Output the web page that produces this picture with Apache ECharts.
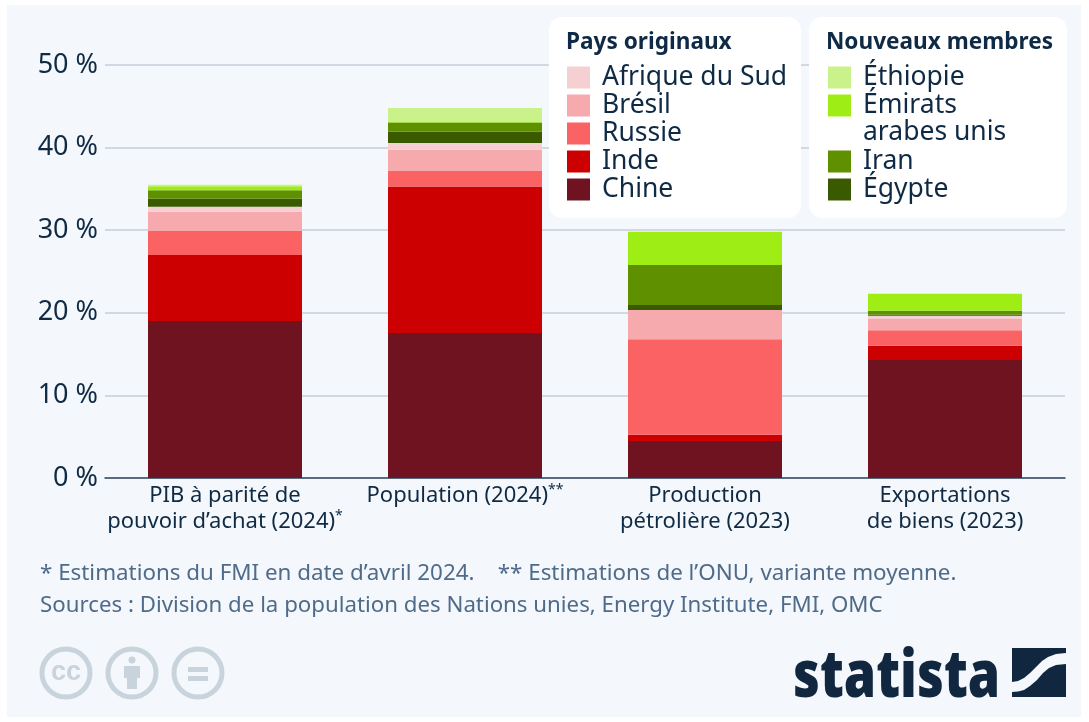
<!DOCTYPE html>
<html><head><meta charset="utf-8">
<style>html,body{margin:0;padding:0;background:#fff}#c{width:1089px;height:722px}</style>
<script src="https://cdn.jsdelivr.net/npm/echarts@6/dist/echarts.min.js"></script></head>
<body><div id="c"></div>
<script>
const categories = ['PIB à parité de\npouvoir d’achat (2024)*','Population (2024)**','Production\npétrolière (2023)','Exportations\nde biens (2023)'];
const yTicks = [0,10,20,30,40,50];
const chine = [19.0,17.55,4.48,14.28];
const inde = [8.0,17.75,0.76,1.72];
const russie = [2.9,1.87,11.56,1.88];
const bresil = [2.34,2.58,3.54,1.42];
const afrique = [0.61,0.8,0,0.35];
const egypte = [0.95,1.38,0.61,0.1];
const iran = [1.03,1.12,4.85,0.49];
const emirats = [0.5,0.1,4.0,2.06];
const ethiopie = [0.17,1.65,0,0];
const original = ['Afrique du Sud','Brésil','Russie','Inde','Chine'];
const newA = ['Éthiopie','Émirats arabes unis'];
const newB = ['Iran','Égypte'];
const stack = [['Chine',chine,'#701321'],['Inde',inde,'#cc0000'],['Russie',russie,'#fb6264'],['Brésil',bresil,'#f7aaae'],['Afrique du Sud',afrique,'#f5d0d3'],['Égypte',egypte,'#3a5a00'],['Iran',iran,'#5e9000'],['Émirats arabes unis',emirats,'#9eee15'],['Éthiopie',ethiopie,'#c9f28b']];
const F = '"Noto Sans","Open Sans",sans-serif';
const INK = '#0f2a44', SUB = '#4f6b8a', ICON = '#c8d3dc', BG = '#f4f7fb', LOGO = '#10273f';
const legendBase = {orient:'vertical',itemWidth:23,itemHeight:22,itemGap:1,padding:0,selectedMode:false,z:20,icon:'rect',
  textStyle:{fontFamily:F,fontSize:26.5,lineHeight:22,color:INK,padding:[0,0,0,7]},itemStyle:{borderWidth:0}};
const chart = echarts.init(document.getElementById('c'),null,{renderer:'canvas'});
chart.setOption({
  animation:false,
  backgroundColor:'#fff',
  textStyle:{fontFamily:F},
  grid:{left:105,right:24,top:65,bottom:244,containLabel:false},
  xAxis:{type:'category',data:categories,axisTick:{show:false},
    axisLine:{lineStyle:{color:'#33475f',width:1.5}},
    axisLabel:{interval:0,margin:5,fontFamily:F,fontSize:22,lineHeight:26,color:INK,
      formatter:v=>v.replace(/(\*+)$/,'{s|$1}'),
      rich:{s:{fontSize:14,fontFamily:F,color:INK,verticalAlign:'top',padding:[0,0,6,0]}}}},
  yAxis:{type:'value',min:0,max:50,interval:10,
    axisLine:{show:false},axisTick:{show:false},
    splitLine:{lineStyle:{color:'#c6ced9',width:1.5}},
    axisLabel:{margin:7,fontFamily:F,fontSize:27,color:INK,padding:[6,0,0,0],formatter:v=>yTicks.includes(v)?v+' %':''}},
  legend:[
    Object.assign({},legendBase,{left:567,top:64,data:original}),
    Object.assign({},legendBase,{left:828,top:64,data:newA,formatter:n=>n.split(' ')[0]}),
    Object.assign({},legendBase,{left:828,top:148,data:newB})
  ],
  series:stack.map(([name,data,color])=>({name,type:'bar',stack:'t',data,barWidth:154,itemStyle:{color},emphasis:{disabled:true}})),
  graphic:[
    {type:'rect',z:-10,silent:true,shape:{x:7,y:5,width:1074,height:712},style:{fill:BG}},
    {type:'rect',z:10,shape:{x:549,y:17,width:252,height:201,r:13},style:{fill:'#fff'}},
    {type:'rect',z:10,shape:{x:809,y:17,width:258,height:201,r:13},style:{fill:'#fff'}},
    {type:'text',z:21,x:566,y:31,style:{text:'Pays originaux',fontFamily:F,fontWeight:700,fontSize:22.6,fill:INK}},
    {type:'text',z:21,x:826,y:31,style:{text:'Nouveaux membres',fontFamily:F,fontWeight:700,fontSize:22.6,fill:INK}},
    {type:'text',z:21,x:863,y:119,style:{text:'arabes unis',fontFamily:F,fontSize:26.5,fill:INK}},
    {type:'text',x:40,y:564,scaleX:1.065,style:{text:'* Estimations du FMI en date d’avril 2024.    ** Estimations de l’ONU, variante moyenne.',fontFamily:F,fontSize:21,fill:SUB}},
    {type:'text',x:40,y:596,scaleX:1.06,style:{text:'Sources : Division de la population des Nations unies, Energy Institute, FMI, OMC',fontFamily:F,fontSize:21,fill:SUB}},
    {type:'circle',shape:{cx:66,cy:673,r:24},style:{fill:'none',stroke:ICON,lineWidth:5}},
    {type:'text',x:66,y:673,style:{text:'cc',fontFamily:'"Liberation Sans",sans-serif',fontWeight:700,fontSize:27,fill:ICON,align:'center',verticalAlign:'middle'}},
    {type:'circle',shape:{cx:132,cy:673,r:24},style:{fill:'none',stroke:ICON,lineWidth:5}},
    {type:'circle',shape:{cx:132,cy:660,r:3.5},style:{fill:ICON}},
    {type:'polygon',shape:{points:[[124,666],[140,666],[140,678],[137,678],[137,689],[127,689],[127,678],[124,678]]},style:{fill:ICON}},
    {type:'circle',shape:{cx:198,cy:673,r:24},style:{fill:'none',stroke:ICON,lineWidth:5}},
    {type:'rect',shape:{x:188,y:667,width:20,height:5},style:{fill:ICON}},
    {type:'rect',shape:{x:188,y:676,width:20,height:5},style:{fill:ICON}},
    {type:'text',x:793,y:646,scaleX:0.8,style:{text:'statista',fontFamily:'"Open Sans",sans-serif',fontWeight:800,fontSize:65,fill:LOGO}},
    {type:'polygon',shape:{points:[[1012,648],[1066,648],[1066,653],[1056,654],[1048,657],[1042,661],[1036,667],[1030,673],[1024,678],[1018,681],[1012,682]]},style:{fill:LOGO}},
    {type:'polygon',shape:{points:[[1066,664],[1056,665],[1049,668],[1043,673],[1037,680],[1030,686],[1024,690],[1018,691.5],[1012,692],[1012,697],[1066,697]]},style:{fill:LOGO}}
  ]
});
</script></body></html>
